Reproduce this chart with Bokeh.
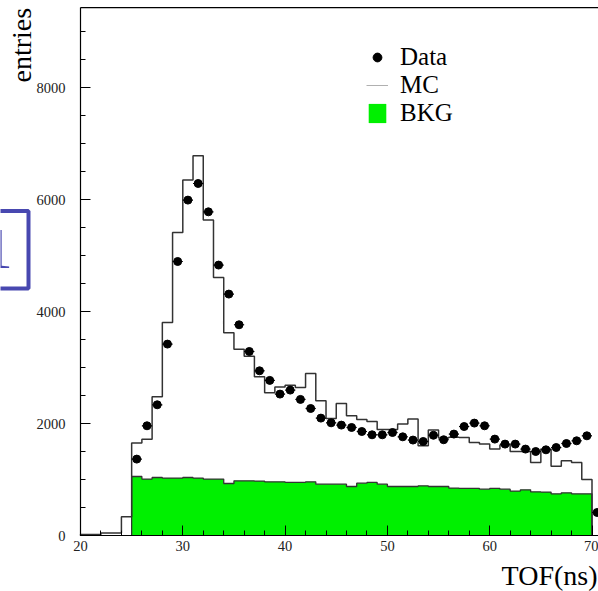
import numpy as np
from bokeh.plotting import figure
from bokeh.models import (Range1d, SingleIntervalTicker, Label, BoxAnnotation,
                          Legend, LegendItem)
from bokeh.embed import file_html
from bokeh.resources import INLINE

# ---- data ----
bin_lo = 20
bin_width = 1.0
mc_counts = [18, 18, 43, 43, 334, 1650, 1720, 2477, 3804, 5411, 6346, 6780, 5632,
             4607, 3620, 3328, 3203, 2834, 2548, 2650, 2685, 2643, 2893, 2405,
             2090, 2357, 2138, 2070, 2036, 1895, 1893, 1989, 2079, 1602, 1882,
             1740, 1755, 1750, 1661, 1632, 1543, 1614, 1500, 1500, 1304, 1543,
             1235, 1334, 1304, 1000]          # bins 20..70
bkg_lo = 25
bkg_counts = [1054, 1007, 1036, 1025, 1025, 1036, 1025, 1007, 1007, 929, 977,
              977, 972, 959, 959, 947, 947, 959, 917, 917, 917, 875, 935, 947,
              917, 875, 875, 875, 887, 875, 875, 846, 840, 840, 828, 840, 828,
              793, 816, 780, 775, 745, 762, 745, 745]   # bins 25..70
data_x = [25.5 + i for i in range(46)]
data_y = [1364, 1959, 2334, 3418, 4893, 5989, 6286, 5780, 4829, 4311, 3763,
          3286, 2941, 2770, 2525, 2596, 2430, 2268, 2096, 2012, 1971, 1929,
          1857, 1798, 1798, 1839, 1762, 1704, 1679, 1790, 1710, 1811, 1946,
          2007, 1959, 1721, 1632, 1632, 1543, 1500, 1530, 1571, 1643, 1691,
          1780, 411]
x_axis_min, x_axis_max = 20, 70.64
y_axis_min, y_axis_max = 0, 9428
x_ticks_interval = 10
y_ticks_interval = 2000

FONT = "Liberation Serif"
W, H = 598, 591
# frame occupies the whole canvas; axes are pinned inside it (ROOT-like pad)
px_per_x = 10.23
px_per_y = 0.056
left_px, bottom_px = 80, 56


def step_path(lo, width, counts):
    xs, ys = [lo], [0]
    for i, c in enumerate(counts):
        a = lo + i * width
        b = a + width
        xs += [a, b]
        ys += [c, c]
    xs.append(lo + len(counts) * width)
    ys.append(0)
    return xs, ys


xr = Range1d(x_axis_min - left_px / px_per_x,
             x_axis_min + (W - left_px) / px_per_x)
yr = Range1d(y_axis_min - bottom_px / px_per_y,
             y_axis_min + (H - bottom_px) / px_per_y)

p = figure(width=W, height=H, output_backend="svg", toolbar_location=None,
           x_range=xr, y_range=yr,
           min_border_left=0, min_border_right=0, min_border_top=0,
           min_border_bottom=0)
p.grid.visible = False
p.outline_line_color = None
p.background_fill_color = "white"
p.border_fill_color = "white"

# BKG filled histogram
bx, by = step_path(bkg_lo, bin_width, bkg_counts)
bkg_r = p.patch(bx, by, fill_color="#00f000", line_color=None)
p.line(bx, by, line_color="#333333", line_width=1.3)

# MC histogram
mx, my = step_path(bin_lo, bin_width, mc_counts)
p.line(mx, my, line_color="#333333", line_width=1.5)

# Data with horizontal bars
dx = np.array(data_x)
p.segment(x0=dx - bin_width / 2, x1=dx + bin_width / 2, y0=data_y, y1=data_y,
          line_color="black", line_width=1.2)
data_r = p.scatter(data_x, data_y, size=8, marker="circle", fill_color="black",
                   line_color="black")

# top frame line
p.segment(x0=[x_axis_min], x1=[x_axis_max], y0=[y_axis_max], y1=[y_axis_max],
          line_color="black", line_width=1.2)

# legend-only renderers (single NaN point: nothing drawn in the plot)
nan = [float("nan")]
dot_leg = p.scatter(nan, nan, marker="circle", size=6, fill_color="black",
                    line_color="black")
mc_leg = p.line(nan, nan, line_color="#b0b0b0", line_width=1)

legend = Legend(items=[LegendItem(label="Data", renderers=[dot_leg]),
                       LegendItem(label="MC", renderers=[mc_leg]),
                       LegendItem(label="BKG", renderers=[bkg_r])],
                location=(366, 464), orientation="vertical",
                label_text_font=FONT, label_text_font_size="25px",
                label_text_color="black", glyph_width=22, glyph_height=24,
                label_height=26, label_standoff=12, spacing=-2, padding=0,
                margin=0, border_line_color=None, background_fill_alpha=0)
p.add_layout(legend, "center")

# axes pinned at x=20 / y=0
p.xaxis[0].fixed_location = y_axis_min
p.yaxis[0].fixed_location = x_axis_min
p.xaxis[0].bounds = (x_axis_min, x_axis_max)
p.yaxis[0].bounds = (y_axis_min, y_axis_max)
for ax in (p.xaxis[0], p.yaxis[0]):
    ax.axis_line_color = "black"
    ax.axis_line_width = 1.2
    ax.major_tick_in = 10
    ax.major_tick_out = 0
    ax.minor_tick_in = 5
    ax.minor_tick_out = 0
    ax.major_tick_line_color = "black"
    ax.minor_tick_line_color = "black"
    ax.major_label_text_font = FONT
    ax.major_label_text_font_size = "14.5px"
    ax.major_label_text_color = "#222222"

p.xaxis[0].ticker = SingleIntervalTicker(interval=x_ticks_interval, num_minor_ticks=5)
p.yaxis[0].ticker = SingleIntervalTicker(interval=y_ticks_interval, num_minor_ticks=4)
p.xaxis[0].major_label_standoff = 5
p.yaxis[0].major_label_standoff = 15

# axis titles (ROOT style placement), screen px from bottom-left
p.add_layout(Label(x=21, y=H - 82, x_units="screen", y_units="screen",
                   text="entries", angle=np.pi / 2, text_align="left",
                   text_baseline="alphabetic", text_font=FONT,
                   text_font_size="28px", text_color="black"))
p.add_layout(Label(x=W - 1, y=H - 575, x_units="screen", y_units="screen",
                   text="TOF(ns)", text_align="right",
                   text_baseline="alphabetic", text_font=FONT,
                   text_font_size="28px", text_color="black"))

# blue framed panel label (cut at the left edge)
p.add_layout(BoxAnnotation(left=-10, right=28, top=H - 210.5, bottom=H - 288,
                           left_units="screen", right_units="screen",
                           top_units="screen", bottom_units="screen",
                           fill_alpha=0, line_color="#4848b0", line_alpha=1.0,
                           line_width=4))
p.add_layout(Label(x=12, y=H - 248, x_units="screen", y_units="screen",
                   text="1", text_align="right", text_baseline="alphabetic",
                   text_font=FONT, text_font_size="56px", text_color="#4848b0"))

open("out.html", "w").write(file_html(p, INLINE))
